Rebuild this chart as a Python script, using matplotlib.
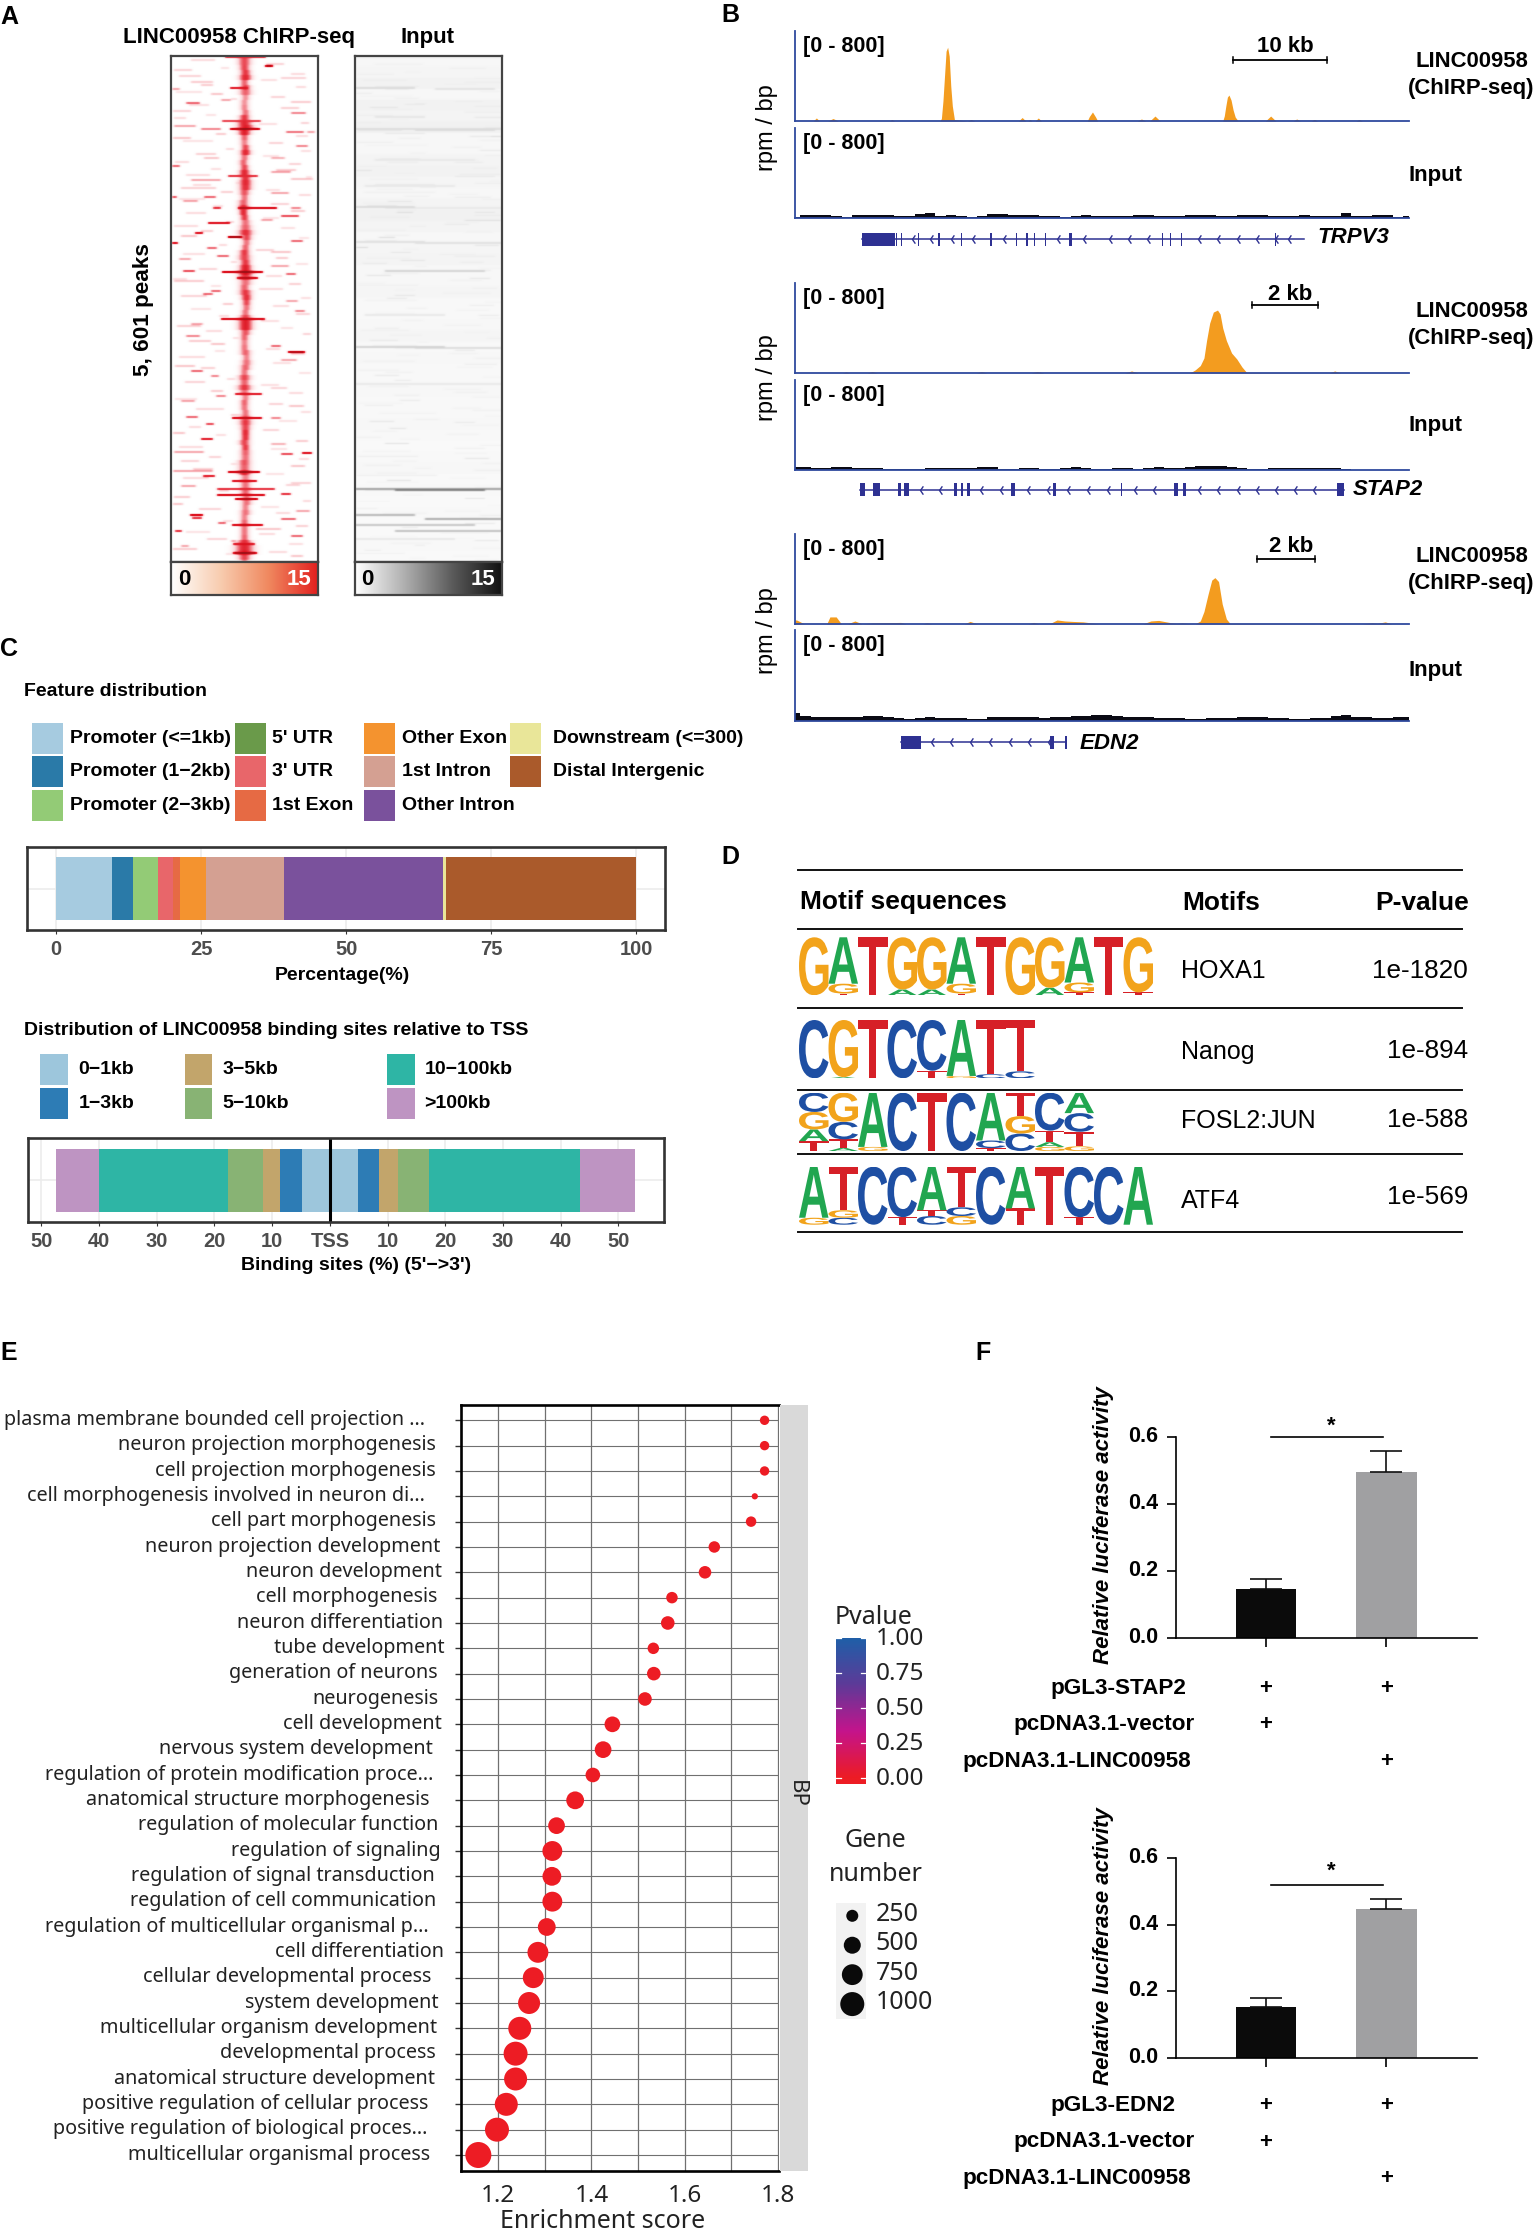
import numpy as np
import matplotlib
matplotlib.use('Agg')
import matplotlib.pyplot as plt
from matplotlib.colors import LinearSegmentedColormap
from matplotlib.patches import Rectangle, PathPatch
from matplotlib.textpath import TextPath
from matplotlib.font_manager import FontProperties
from matplotlib.path import Path
from matplotlib.transforms import Affine2D

W, H = 1535, 2234
ARIAL = 'Liberation Sans'
NAVY = '#2e3192'
TRACKBLUE = '#2f4a9e'
ORANGE = '#f39c1f'
INK = '#222222'

# ---------- panel A data
band_center = [73,74,74,73,74,74,74,73,73,74,73,73, 74,73,73,73,74,74,73,72,73,73,74,74,
               74,73,73,72,72,72,73,74,74,74,75,75, 74,73,73,74,74,74,74,74,73,74,75,75,
               75,74,74,74,74,74,73,73,73,74,75,75, 74,73,73,73,73,73,74,73,73,74,74,74,
               74,74,74,73,74,74,74,73,73,73,74,74, 74,74,75,75,74,74,73,73,73,73,73,73,
               73,73,73,73]
band_hw = [6,6,7,5,6,7,5,5,5,5,6,8, 9,7,5,5,5,6,5,5,5,6,6,7, 7,6,5,6,6,5,5,6,7,8,6,5,
           5,6,7,6,7,8,8,7,6,7,6,5, 5,5,7,8,8,6,5,5,5,6,5,6, 6,5,7,6,8,6,5,5,5,5,6,7,
           6,5,5,6,5,6,6,7,7,7,6,6, 6,6,5,6,5,6,5,5,5,5,5,8, 10,10,7,4]
band_amp = [.7,.75,.85,.6,.7,.6,.45,.45,.5,.55,.75,.85, .9,.9,.6,.5,.7,.85,.55,.6,.7,.85,.8,.85,
            .8,.65,.55,.6,.8,.85,.75,.55,.6,.8,.7,.55, .6,.75,.7,.75,.9,.95,.75,.55,.6,.75,.8,.7,
            .55,.55,.7,.9,.9,.65,.6,.5,.55,.6,.5,.55, .6,.55,.7,.6,.75,.55,.5,.6,.55,.55,.6,.75,
            .7,.85,.8,.7,.75,.6,.55,.65,.6,.85,.5,.55, .55,.6,.5,.55,.5,.55,.5,.6,.55,.55,.6,.8,
            .85,.9,.7,.45]
streak_row = [-9,0,22,55,63,110,131,142,157,171,206,212,253,286,328,352,387,406,415,423,429,433,449,452,459,465,478,487]
streak_start = [54,94,59,51,59,57,1,67,37,57,51,66,50,117,64,61,131,57,61,46,46,64,19,21,61,4,62,62]
streak_end = [95,102,77,90,89,87,6,106,59,71,92,87,94,134,91,91,141,89,86,104,94,87,32,31,92,11,84,86]
streak_val = [.6,.9,.7,.55,.85,.6,.5,.8,.75,.95,.85,.8,.8,.9,.7,.8,.75,.85,.75,.6,.8,.85,.85,.6,.8,.6,.7,.85]
speck_row = [4,12,16,23,28,36,37,34,45,47,60,63,66,72,66,80,92,92,100,106,114,113,122,127,131,135,142,142,150,154,
             167,170,175,177,182,186,190,193,200,205,208,215,225,228,235,245,258,270,278,280,294,300,305,310,322,
             330,335,340,351,352,358,367,373,378,386,388,395,400,405,410,417,420,428,438,445,453,457,463,470,475,480,490,
             -6,-2,2,8,10,14,19,21,26,31,33,39,42,49,52,57,58,68,70,75,77,83,85,88,90,96,98,103,104,109,111,117,119,124,126,
             129,133,138,140,145,147,152,156,160,162,165,172,179,184,188,192,196,198,203,210,213,218,220,223,230,232,238,240,
             243,248,250,255,260,262,265,268,272,275,283,285,288,291,297,302,307,313,316,319,325,327,333,338,343,346,349,355,
             361,364,369,375,381,383,391,393,398,403,408,412,419,425,431,435,441,443,447,455,460,466,468,473,478,483,486,488]
speck_start = [3,110,20,1,40,120,15,50,2,120,3,30,115,2,136,125,33,100,1,100,20,120,10,100,33,12,42,120,110,90,
               24,10,120,1,36,100,46,8,100,12,115,3,40,32,115,124,20,15,40,100,110,4,20,40,100,
               45,10,118,15,100,35,2,30,100,3,110,10,120,2,32,120,10,110,2,125,110,47,85,120,60,10,120,
               20,95,50,120,8,90,30,125,5,100,60,18,110,35,3,130,88,45,125,12,98,55,130,25,92,4,118,40,105,15,135,65,22,95,50,
               128,8,100,42,120,15,92,55,3,110,30,128,48,85,12,105,60,125,28,95,2,118,40,88,10,130,52,102,
               20,125,48,90,6,110,35,132,62,18,95,44,120,8,102,30,128,56,14,90,40,118,4,98,25,130,60,108,18,92,45,125,
               8,100,38,128,60,22,95,12,115,48,3,132,90,28,105,52,125,15,88,36,118,2,98,55,130,20,92,65,122,40,8,105]
speck_len = [18,25,22,8,12,20,14,10,18,15,22,20,18,18,8,12,15,14,8,20,30,22,35,18,12,15,8,10,18,12,
             8,16,12,6,10,20,12,12,18,12,10,30,10,10,12,10,12,14,14,10,16,20,12,8,16,
             10,14,15,12,10,8,12,12,15,30,12,18,14,40,12,20,15,10,10,14,15,8,25,12,5,8,12,
             24,18,8,14,22,16,12,10,26,14,6,20,18,10,12,8,18,10,12,30,14,8,10,20,16,14,12,10,20,24,6,8,18,14,12,
             12,26,18,10,14,20,16,8,24,14,12,10,8,18,22,12,6,12,18,16,14,12,10,24,26,10,10,16,
             20,14,10,18,24,12,16,8,6,22,14,10,14,26,18,14,12,8,20,18,12,14,22,14,28,10,12,18,12,16,10,12,
             24,16,12,10,8,20,18,26,14,10,16,8,18,22,14,10,12,24,16,20,14,24,18,8,10,20,18,6,14,12,26,14]
speck_val = [.12,.12,.14,.2,.15,.14,.3,.2,.12,.25,.2,.25,.28,.15,.2,.25,.15,.18,.3,.2,.2,.15,.13,.2,.3,.2,.4,.25,.35,.2,
             .5,.15,.3,.5,.3,.15,.3,.2,.2,.35,.3,.14,.3,.3,.2,.25,.2,.25,.15,.3,.2,.15,.3,.25,.12,
             .25,.2,.15,.3,.25,.35,.15,.45,.18,.2,.35,.12,.15,.2,.45,.12,.2,.4,.15,.2,.3,.3,.15,.3,.2,.2,.15,
             .1,.12,.08,.1,.12,.09,.14,.1,.08,.12,.1,.09,.13,.08,.1,.12,.09,.14,.1,.08,.12,.1,.09,.13,.08,.1,.12,.09,.14,.1,.08,.12,.1,.09,.13,
             .1,.08,.12,.09,.14,.1,.08,.12,.1,.09,.13,.08,.1,.12,.09,.14,.1,.08,.12,.1,.09,.13,.08,.1,.12,.09,.14,.1,
             .08,.12,.1,.09,.13,.08,.1,.12,.09,.14,.1,.08,.12,.1,.09,.13,.08,.1,.12,.09,.14,.1,.08,.12,.1,.09,.13,.08,.1,.12,.09,.14,
             .1,.08,.12,.1,.09,.13,.08,.1,.12,.09,.14,.1,.08,.12,.1,.09,.13,.08,.1,.12,.09,.14,.1,.08,.12,.1,.09,.13,.08,.1,.12,.09]
grey_base = [.035,.04,.05,.035,.05,.045,.055,.035,.035,.045,.05,.04,.035,.045,.055,.045,.035,.04,.045,.035,.035,.04,.03,.03,.035,.04,.03,.035,.03,.03,
             .035,.03,.03,.035,.03,.025,.03,.035,.025,.03,.02,.03,.025,.02,.03,.025,.02,.025,.02,.03]
grey_row = [1,31,32,60,72,73,103,129,150,151,185,186,214,258,290,291,327,432,433,458,462,468,474,482]
grey_start = [0,0,80,20,0,60,20,10,0,30,0,60,30,10,0,60,0,0,40,0,70,0,40,0]
grey_end = [147,60,140,70,147,140,120,100,60,147,70,147,130,90,90,147,147,147,130,60,147,120,147,100]
grey_val = [.05,.14,.11,.1,.13,.14,.09,.09,.14,.09,.12,.12,.17,.09,.17,.13,.09,.36,.5,.28,.32,.22,.24,.09]

# ---------- panel B data (position along the browser window, signal in rpm)
t1_pos = [147,182,188,194,210,220,230,328,333,338,425,428,431,434,437,440,443,446,449,453,478,485,492,576,583,590,594,598,602,608,614,620,
          708,712,718,724,728,804,812,820,828,838,848,968,971,974,977,980,984,988,992,997,1050,1060,1070,1103,1110,1117,1138,1144,1150,1224,1230,1236,1325]
t1_sig = [0,0,27,0,0,22,0,0,13,0,0,22,177,398,619,654,575,309,133,13,0,13,0,0,31,0,0,13,0,0,27,0,
          0,40,80,35,0,0,18,0,0,44,0,0,44,133,212,230,186,97,35,4,0,44,0,0,18,0,0,13,0,0,13,0,0]
t2_pos = [147,238,245,252,285,295,305,495,505,515,600,612,625,780,793,806,905,915,925,932,937,943,950,958,963,968,975,985,995,1005,1014,1172,1183,1194,1325]
t2_sig = [0,0,9,0,0,13,0,0,13,0,0,13,0,0,18,0,0,27,66,133,287,442,539,557,522,398,287,177,124,53,4,0,18,0,0]
t3_pos = [147,150,165,208,214,226,236,248,262,276,296,350,360,392,400,410,472,483,497,594,605,616,635,650,665,680,700,730,815,830,845,870,880,890,900,915,925,932,940,947,953,960,967,975,982,1235,1255,1265,1280,1292,1325]
t3_sig = [35,35,0,0,62,62,0,0,26,0,9,13,0,0,9,0,0,22,0,0,13,0,0,35,26,22,18,0,0,26,31,9,4,9,4,0,26,110,265,389,411,376,177,44,4,0,9,4,18,0,0]
t1_input = [10,24,30,24,15,13,28,28,30,30,22,22,32,42,20,30,18,13,22,32,32,30,24,30,20,20,13,18,30,22,18,22,22,30,30,22,20,22,30,24,30,18,20,30,24,24,18,15,18,30,20,18,20,42,18,18,24,30,13,15]
t2_input = [26,20,13,18,26,28,18,15,13,9,9,9,9,13,18,18,15,18,26,24,9,9,13,13,9,9,18,22,15,9,9,13,13,9,13,22,15,13,26,32,34,36,26,15,9,9,11,15,18,18,13,15,11,9,0,0,0,0,0,0]
t3_input = [72,44,36,34,36,36,36,40,40,34,24,13,22,34,24,28,22,13,18,34,36,36,36,34,30,36,36,44,46,50,50,44,38,36,36,30,30,28,18,18,24,28,28,34,38,38,30,24,13,13,22,28,44,50,38,36,30,30,34,36]

genes = ['TRPV3', 'STAP2', 'EDN2']
g1_span = (276, 1124)
g1_ex_start = [276,340,351,384,421,465,521,571,590,605,627,673,726,851,867,887,899,1068]
g1_ex_len =   [62,  2,  2,  1,  4,  2,  4,  2,  4,  2,  2,  6,  1,  3,  2,  2,  1,  3]
g1_chev = [372,407,447,487,547,650,700,750,787,823,920,957,995,1032,1069,1094]
g2_span = (272, 1200)
g2_ex_start = [272,297,345,356,453,466,478,562,642,773,875,892,1188]
g2_ex_len =   [9,  14,  5,  9,  4,  3,  4,  8,  6,  2,  8,  6,  12]
g2_chev = [386,423,502,540,592,630,670,708,745,797,835,920,957,995,1032,1068,1105,1142]
g3_span = (350, 668)
g3_ex_start = [350,386,636,666]
g3_ex_len =   [36,  3,  9,  3]
g3_chev = [409,445,483,520,558,595,632]

# ---------- panel C data
feat_names = ['Promoter (<=1kb)','Promoter (1\u22122kb)','Promoter (2\u22123kb)',"5' UTR","3' UTR",'1st Exon',
              'Other Exon','1st Intron','Other Intron','Downstream (<=300)','Distal Intergenic']
feat_vals = [9.7,3.6,4.2,0.1,2.5,1.3,4.5,13.4,27.4,0.6,32.7]
feat_cols = ['#a6cbe0','#2a7aa8','#93cb76','#6a9a4a','#e8666a','#e66a44','#f4932f','#d4a092','#7a519c','#e9e699','#aa5a2b']
tss_names = ['0\u22121kb','1\u22123kb','3\u22125kb','5\u221210kb','10\u2212100kb','>100kb']
tss_cols = ['#9dc6dc','#2d7cb5','#c2a56b','#88b374','#2eb5a5','#be94c2']
tss_left = [4.9,3.8,2.9,6.0,22.4,7.4]
tss_right = [4.9,3.6,3.3,5.4,26.1,9.5]

# ---------- panel D data
motif_names = ['HOXA1','Nanog','FOSL2:JUN','ATF4']
motif_p = ['1e-1820','1e-894','1e-588','1e-569']
logo_hoxa1 = [[('G',1.0)],[('T',.03),('G',.17),('A',.8)],[('T',1.0)],[('A',.1),('G',.9)],[('A',.1),('G',.9)],
              [('T',.03),('G',.17),('A',.8)],[('T',1.0)],[('G',1.0)],[('A',.13),('G',.87)],[('T',.05),('G',.17),('A',.78)],
              [('T',1.0)],[('T',.05),('G',.95)]]
logo_nanog = [[('C',1.0)],[('A',.02),('G',.98)],[('T',1.0)],[('C',1.0)],[('T',.13),('C',.87)],[('G',.04),('A',.96)],
              [('C',.07),('T',.93)],[('C',.12),('T',.88)]]
logo_fosl2 = [[('T',.17),('A',.2),('G',.3),('C',.33)],[('A',.05),('T',.15),('C',.3),('G',.5)],[('G',.07),('A',.93)],[('C',1.0)],
              [('T',1.0)],[('C',1.0)],[('T',.05),('C',.13),('A',.82)],[('C',.3),('G',.3),('T',.4)],
              [('G',.07),('A',.08),('T',.2),('C',.65)],[('G',.08),('T',.25),('C',.32),('A',.35)]]
logo_atf4 = [[('G',.12),('A',.88)],[('C',.12),('G',.13),('T',.75)],[('C',1.0)],[('T',.13),('C',.87)],[('C',.15),('T',.1),('A',.75)],
             [('G',.15),('C',.15),('T',.7)],[('C',1.0)],[('T',.28),('A',.72)],[('T',1.0)],[('T',.13),('C',.87)],[('C',1.0)],[('A',1.0)]]
base_cols = {'A':'#21a650','C':'#1e4fa3','G':'#f2a31b','T':'#d62027'}

# ---------- panel E data
go_terms = ['plasma membrane bounded cell projection ...','neuron projection morphogenesis','cell projection morphogenesis',
            'cell morphogenesis involved in neuron di...','cell part morphogenesis','neuron projection development',
            'neuron development','cell morphogenesis','neuron differentiation','tube development','generation of neurons',
            'neurogenesis','cell development','nervous system development','regulation of protein modification proce...',
            'anatomical structure morphogenesis','regulation of molecular function','regulation of signaling',
            'regulation of signal transduction','regulation of cell communication','regulation of multicellular organismal p...',
            'cell differentiation','cellular developmental process','system development','multicellular organism development',
            'developmental process','anatomical structure development','positive regulation of cellular process',
            'positive regulation of biological proces...','multicellular organismal process']
go_enrich = [1.772,1.772,1.772,1.751,1.743,1.664,1.644,1.573,1.564,1.533,1.534,1.515,1.445,1.425,1.403,1.365,1.325,1.316,1.315,1.316,
             1.304,1.285,1.275,1.266,1.246,1.237,1.237,1.217,1.197,1.157]
go_genes = [153,153,153,68,190,229,273,229,320,229,320,320,427,484,370,548,484,685,612,685,548,757,757,838,916,997,916,916,997,1170]
go_pvalue = [0.0]*30
go_label_end = [812,833,833,812,833,842,845,836,848,849,836,839,845,827,828,822,838,842,832,835,820,848,824,839,835,833,831,819,818,823]
legend_genes = [250,500,750,1000]
p_ticks = [0.0,0.25,0.5,0.75,1.0]

# ---------- panel F data
lucif_groups = ['pGL3-STAP2','pGL3-EDN2']
lucif_means = [[0.145,0.496],[0.154,0.448]]
lucif_errs = [[0.029,0.061],[0.026,0.029]]
lucif_ticks = [0.0,0.2,0.4,0.6]

# ---------- figure
fig = plt.figure(figsize=(W/100, H/100), dpi=100, facecolor='white')

def ax_px(x0, y0, x1, y1, **kw):
    return fig.add_axes([x0/W, 1-y1/H, (x1-x0)/W, (y1-y0)/H], **kw)

ov = fig.add_axes([0,0,1,1], zorder=20)
ov.set_xlim(0,W); ov.set_ylim(H,0); ov.axis('off'); ov.patch.set_alpha(0)

def T(x, y, s, size=12, weight='bold', ha='left', va='center', color='black', family=ARIAL, **kw):
    if 'rotation' not in kw:
        y = y + 1.5
    return ov.text(x, y, s, fontsize=size, fontweight=weight, ha=ha, va=va, color=color, family=family, **kw)

for (lx, ly, s) in [(0,15,'A'),(721,14,'B'),(0,648,'C'),(721,855,'D'),(0,1351,'E'),(975,1351,'F')]:
    T(lx, ly, s, size=18)

# ---------- A
rows, cols = 506, 147
M = np.zeros((rows, cols))
cc = np.arange(cols)
M[:9] = band_amp[0]*0.7*np.exp(-((cc-band_center[0])/band_hw[0])**2)
for i, (c, h, a) in enumerate(zip(band_center, band_hw, band_amp)):
    M[9+i*5:9+i*5+5] = a*0.72*np.exp(-((cc-c)/(h*.85))**2)
for r, s, l, v in zip(speck_row, speck_start, speck_len, speck_val):
    M[r+9:r+11, s:s+l] = np.maximum(M[r+9:r+11, s:s+l], v*1.5)
for r, s, e, v in zip(streak_row, streak_start, streak_end, streak_val):
    M[r+9:r+11, s:e] = np.maximum(M[r+9:r+11, s:e], v)
def soften(A):
    A = np.apply_along_axis(lambda v: np.convolve(v, [.1,.2,.4,.2,.1], mode='same'), 1, A)
    return np.apply_along_axis(lambda v: np.convolve(v, [.2,.6,.2], mode='same'), 0, A)
red_cmap = LinearSegmentedColormap.from_list('r', ['#ffffff','#fbd5d8','#f2858e','#e83c48','#dc1420','#8e0f14'])
def framed(ax, lw=1.6, col='#444444'):
    for sp in ax.spines.values():
        sp.set_linewidth(lw); sp.set_color(col)
    ax.set_xticks([]); ax.set_yticks([])
axr = ax_px(171, 56, 318, 562)
axr.imshow(soften(M), aspect='auto', cmap=red_cmap, vmin=0, vmax=.85, interpolation='bilinear')
framed(axr)
G = np.repeat(np.array(grey_base)[:, None], int(np.ceil(rows/len(grey_base))), axis=0)[:rows]*np.ones((rows, cols))
for r, s, l, v in zip(speck_row, speck_start, speck_len, speck_val):
    G[r+14:r+15, s:s+2*l] += v*.22
for r, s, e, v in zip(grey_row, grey_start, grey_end, grey_val):
    G[r:r+2, s:e] = np.maximum(G[r:r+2, s:e], v)
axg = ax_px(355, 56, 502, 562)
axg.imshow(soften(G), aspect='auto', cmap='gray_r', vmin=0, vmax=1, interpolation='bilinear')
framed(axg)
grad = np.linspace(0, 1, 256)[None, :]
axcr = ax_px(171, 562, 318, 595)
axcr.imshow(grad, aspect='auto', cmap=LinearSegmentedColormap.from_list('c', ['#ffffff','#f8cdb0','#f0885f','#e2201f']))
framed(axcr)
axcg = ax_px(355, 562, 502, 595)
axcg.imshow(grad, aspect='auto', cmap=LinearSegmentedColormap.from_list('g', ['#ffffff','#b0b0b0','#5a5a5a','#111111']))
framed(axcg)
T(184, 578, '0', size=16, ha='center'); T(299, 578, '15', size=16, ha='center', color='white')
T(367, 578, '0', size=16, ha='center'); T(482.5, 578, '15', size=16, ha='center', color='white')
T(239, 35.5, 'LINC00958 ChIRP-seq', size=16, ha='center')
T(428, 35.5, 'Input', size=16, ha='center')
T(144, 310, '5, 601 peaks', size=16.2, ha='center', rotation=90)

# ---------- B
def track(y0, y1, pos, sig, col, step=None):
    ax = ax_px(795, y0, 1408.7, y1)
    ax.set_xlim(147, 1325); ax.set_ylim(0, 800)
    ax.fill_between(pos, sig, 0, color=col, lw=0, step=step)
    for s in ('top','right'):
        ax.spines[s].set_visible(False)
    for s in ('left','bottom'):
        ax.spines[s].set_color(TRACKBLUE); ax.spines[s].set_linewidth(1.3)
    ax.set_xticks([]); ax.set_yticks([])
    ax.patch.set_alpha(0)
    return ax

tops = [(30.8,121,128,218),(282.6,373,379.6,469.7),(533.8,623.9,630.3,720.9)]
chip = [(t1_pos,t1_sig),(t2_pos,t2_sig),(t3_pos,t3_sig)]
inp = [t1_input,t2_input,t3_input]
lab_y = [(59.7,87,173.6),(310,337,424),(555,582,669)]
rpm_y = [128,378,631]
for (a,b,c,d),(p,s),iv,ly,ry in zip(tops,chip,inp,lab_y,rpm_y):
    track(a,b,p,s,ORANGE)
    track(c,d,np.linspace(147,1325,len(iv)),iv,'#0a0a14',step='mid')
    T(803,a+14,'[0 - 800]',size=15.5)
    T(803,c+14,'[0 - 800]',size=15.5)
    T(767,ry,'rpm / bp',size=17,weight='normal',rotation=90,ha='center')
    T(1471.5,ly[0],'LINC00958',size=15.9,ha='center')
    T(1471.5,ly[1],'(ChIRP-seq)',size=15.9,ha='center')
    T(1408,ly[2],'Input',size=16)

chev = Path([(.55,.8),(0,0),(.55,-.8)],[Path.MOVETO,Path.LINETO,Path.LINETO])
def gene(yc, span, starts, lens, chevs):
    ax = ax_px(795, yc-9, 1408.7, yc+9)
    ax.set_xlim(147,1325); ax.set_ylim(-1,1); ax.axis('off'); ax.patch.set_alpha(0)
    ax.plot(span,[0,0],color=NAVY,lw=1.1)
    ax.bar(starts,[1.5]*len(starts),width=lens,bottom=-.75,align='edge',color=NAVY,lw=0)
    ax.plot(chevs,[0]*len(chevs),ls='',marker=chev,ms=6,mfc='none',mec=NAVY,mew=1)
gene(239.3,g1_span,g1_ex_start,g1_ex_len,g1_chev)
gene(489.6,g2_span,g2_ex_start,g2_ex_len,g2_chev)
gene(742.3,g3_span,g3_ex_start,g3_ex_len,g3_chev)
T(1317,236,genes[0],size=16,style='italic')
T(1352.5,488,genes[1],size=16,style='italic')
T(1080,742,genes[2],size=16,style='italic')
for x0,x1,y,ty,tx,lab in [(1233,1327,59.7,44.5,1285,'10 kb'),(1252,1318,304.5,292.5,1290,'2 kb'),(1257,1315,559,545.5,1291,'2 kb')]:
    ov.plot([x0,x1],[y,y],color='black',lw=1.3)
    ov.plot([x0,x0],[y-3,y+3],color='black',lw=1.1); ov.plot([x1,x1],[y-3,y+3],color='black',lw=1.1)
    T(tx,ty,lab,size=16,ha='center')

# ---------- C
T(24,690,'Feature distribution',size=14)
T(24,1028.6,'Distribution of LINC00958 binding sites relative to TSS',size=14)
ky = [(722.6,753.7),(756.3,787.4),(790,821)]
kx = [(32,63,70),(234.6,265.6,272.4),(364,395,402),(509.5,540.5,553)]
order = [(0,0,0),(1,0,1),(2,0,2),(3,1,0),(4,1,1),(5,1,2),(6,2,0),(7,2,1),(8,2,2),(9,3,0),(10,3,1)]
for idx,c,r in order:
    x0,x1,tx = kx[c]; y0,y1 = ky[r]
    ov.add_patch(Rectangle((x0,y0),x1-x0,y1-y0,fc=feat_cols[idx],ec='none'))
    T(tx,(y0+y1)/2-1.5,feat_names[idx],size=14)
ky2 = [(1054,1085.4),(1088,1119)]
kx2 = [(40,68,78.5),(184.7,212,222.5),(387,414.5,424.6)]
for idx,(c,r) in enumerate([(0,0),(0,1),(1,0),(1,1),(2,0),(2,1)]):
    x0,x1,tx = kx2[c]; y0,y1 = ky2[r]
    ov.add_patch(Rectangle((x0,y0),x1-x0,y1-y0,fc=tss_cols[idx],ec='none'))
    T(tx,(y0+y1)/2-1.5,tss_names[idx],size=14)

def cframe(ax):
    for sp in ax.spines.values():
        sp.set_linewidth(1.9); sp.set_color('#333333')
    ax.set_axisbelow(True)
    ax.grid(True,color='#ececec',lw=1.2)
    ax.set_ylim(-.665,.665); ax.set_yticks([0]); ax.set_yticklabels([])
    ax.tick_params(axis='y',length=0)
    ax.tick_params(axis='x',length=3,color='#333333',labelsize=14.5,labelcolor='#4d4d4d',pad=4)
    for l in ax.get_xticklabels():
        l.set_fontweight('bold'); l.set_family(ARIAL)

ax = ax_px(27,847.2,665,930)
left = 0
for v,c in zip(feat_vals,feat_cols):
    ax.barh(0,v,left=left,height=1,color=c,lw=0); left += v
ax.set_xlim(-5.04,105)
ax.set_xticks([0,25,50,75,100])
cframe(ax)
T(342,974.3,'Percentage(%)',size=14,ha='center')

ax = ax_px(28,1138.4,664,1222)
left = 0
for v,c in zip(tss_left,tss_cols):
    ax.barh(0,-v,left=left,height=1,color=c,lw=0); left -= v
left = 0
for v,c in zip(tss_right,tss_cols):
    ax.barh(0,v,left=left,height=1,color=c,lw=0); left += v
ax.axvline(0,color='black',lw=2.2)
ax.set_xlim(-52.3,57.9)
ax.set_xticks([-50,-40,-30,-20,-10,0,10,20,30,40,50])
ax.set_xticklabels(['50','40','30','20','10','TSS','10','20','30','40','50'])
cframe(ax)
T(356,1264.3,"Binding sites (%) (5'\u2212>3')",size=14,ha='center')

# ---------- D
for y in [870,929.3,1008,1090,1154,1231.7]:
    ov.plot([798,1462],[y,y],color='#111111',lw=1.4)
T(800.5,901,'Motif sequences',size=19)
T(1182,901,'Motifs',size=19)
T(1469,901,'P-value',size=19,ha='right')
for nm,p,yn,yp in zip(motif_names,motif_p,[969.3,1050,1119.3,1200],[969.3,1050,1118.7,1195]):
    T(1181,yn,nm,size=18,weight='normal')
    T(1468,yp,p,size=18.8,weight='normal',ha='right')
fp = FontProperties(family=ARIAL,weight='bold')
glyphs = {b:TextPath((0,0),b,size=1,prop=fp) for b in 'ACGT'}
def logo(stacks, y0, y1):
    n = len(stacks)
    ax = ax_px(799, y0, 799+29.5*n, y1)
    ax.set_xlim(0,n); ax.set_ylim(0,1); ax.axis('off'); ax.patch.set_alpha(0)
    for i,st in enumerate(stacks):
        b = 0.
        for let,fr in st:
            g = glyphs[let]; e = g.get_extents()
            tr = Affine2D().translate(-e.x0,-e.y0).scale(1.0/e.width,fr/e.height).translate(i+.0,b)
            ax.add_patch(PathPatch(g,transform=tr+ax.transData,fc=base_cols[let],ec='none'))
            b += fr
logo(logo_hoxa1,937.3,995.3)
logo(logo_nanog,1020,1078.3)
logo(logo_fosl2,1092.7,1151)
logo(logo_atf4,1166.7,1224.7)

# ---------- E
pv_cmap = LinearSegmentedColormap.from_list('pv',['#ed1c24','#c4148c','#5e3a98','#1f5fa8'])
ax = ax_px(461,1405,779,2171.4)
ypos = np.arange(len(go_terms))
ax.set_xlim(1.1197,1.803); ax.set_ylim(29.647,-.604)
ax.set_axisbelow(True)
ax.set_xticks([1.2,1.4,1.6,1.8]); ax.set_xticks([1.3,1.5,1.7],minor=True)
ax.set_yticks(ypos); ax.set_yticklabels([])
ax.grid(True,which='both',axis='x',color='#707070',lw=.9)
ax.grid(True,axis='y',color='#707070',lw=.8)
ax.scatter(go_enrich,ypos,s=[.2994*g for g in go_genes],c=go_pvalue,cmap=pv_cmap,vmin=0,vmax=1,lw=0,clip_on=False,zorder=5)
ax.tick_params(axis='y',length=4,width=1,color='#333333')
ax.tick_params(axis='x',which='both',length=0,labelbottom=False)
for s in ('left','bottom','top'):
    ax.spines[s].set_linewidth(1.9); ax.spines[s].set_color('black')
ax.spines['right'].set_visible(False)
for i,(t,e) in enumerate(zip(go_terms,go_label_end)):
    T(e/1.912,1418.5+i*25.33,t,size=14.25,weight='normal',ha='right',family='Noto Sans',color=INK)
for v in [1.2,1.4,1.6,1.8]:
    T(498.4+(v-1.2)*465.5,2195,f'{v:.1f}',size=17.5,weight='normal',ha='center',family='Noto Sans',color=INK)
T(603,2220,'Enrichment score',size=18,weight='normal',ha='center',family='Noto Sans',color=INK)
ov.add_patch(Rectangle((780,1405),28,766.4,fc='#d9d9d9',ec='none'))
T(796,1794,'BP',size=16,weight='normal',ha='center',family='Noto Sans',rotation=-90,color=INK)
# colourbar
T(835,1616,'Pvalue',size=18,weight='normal',family='Noto Sans',color=INK)
cax = ax_px(836,1637.6,865.6,1783.6)
cax.imshow(np.linspace(1,-0.045,256)[:,None],aspect='auto',cmap=pv_cmap,vmin=0,vmax=1,extent=[0,1,-0.045,1.0])
cax.set_xlim(0,1); cax.set_ylim(-.045,1.0)
cax.set_xticks([]); cax.set_yticks([])
for sp in cax.spines.values(): sp.set_visible(False)
for v in p_ticks:
    cax.plot([0,.17],[v-.005,v-.005],color='white',lw=.9); cax.plot([.83,1],[v-.005,v-.005],color='white',lw=.9)
    T(875.6,1777.3-v*139.7,f'{v:.2f}',size=17.5,weight='normal',family='Noto Sans',color=INK)
T(875.6,1839,'Gene',size=18,weight='normal',ha='center',family='Noto Sans',color=INK)
T(875.6,1873,'number',size=18,weight='normal',ha='center',family='Noto Sans',color=INK)
lax = ax_px(836,1903,865.6,2018.5)
lax.set_xlim(0,1); lax.set_ylim(3.49,-.435); lax.axis('off')
lax.add_patch(Rectangle((0,-.435),1,3.925,fc='#f2f2f2',ec='none'))
lax.scatter([.55]*4,range(4),s=[.2994*g for g in legend_genes],c='#0a0a0a',lw=0,clip_on=False)
for i,g in enumerate(legend_genes):
    T(875.6,1913+i*29.4,str(g),size=18,weight='normal',family='Noto Sans',color=INK)

# ---------- F
for k,(y0,y1,sigf,plus_y,ylab_c,ystar) in enumerate([(1437,1637.6,0.6,[1686.6,1723,1760],1524.7,1422),
                                                     (1858.2,2058,0.521,[2104,2140.5,2177],1946,1867)]):
    ax = ax_px(1175.7,y0,1477,y1)
    ax.set_xlim(-.75,1.752); ax.set_ylim(0,.6)
    ax.bar([0,1],lucif_means[k],width=.5,color=['#0b0b0b','#a0a0a2'],lw=0)
    ax.errorbar([0,1],lucif_means[k],yerr=[[0,0],lucif_errs[k]],fmt='none',ecolor='#111111',elinewidth=1.2,capsize=11.5,capthick=1.2)
    ax.plot([.045,.97],[sigf,sigf],color='black',lw=1.2,clip_on=False)
    for s in ('top','right'): ax.spines[s].set_visible(False)
    for s in ('left','bottom'): ax.spines[s].set_linewidth(1.2)
    ax.set_xticks([0,1]); ax.set_xticklabels([])
    ax.set_yticks(lucif_ticks); ax.set_yticklabels([])
    ax.tick_params(length=6.5,width=1.2)
    ax.patch.set_alpha(0)
    for v in lucif_ticks:
        T(1158,y1-v*(y1-y0)/.6-2,f'{v:.1f}',size=15.5,ha='right')
    T(1103,ylab_c,'Relative luciferase activity',size=16,ha='center',rotation=90,style='italic')
    T(1331.5,ystar+3,'*',size=16,ha='center')
    labs = [lucif_groups[k],'pcDNA3.1-vector','pcDNA3.1-LINC00958']
    xs = [1050.7,1013.3,962]
    marks = [(1266,1386.4),(1266,),(1386.4,)]
    for py,l,x,m in zip(plus_y,labs,xs,marks):
        T(x,py,l,size=16.2)
        for mx in m:
            T(mx,py,'+',size=16,ha='center')

fig.savefig('out.png',dpi=100)
